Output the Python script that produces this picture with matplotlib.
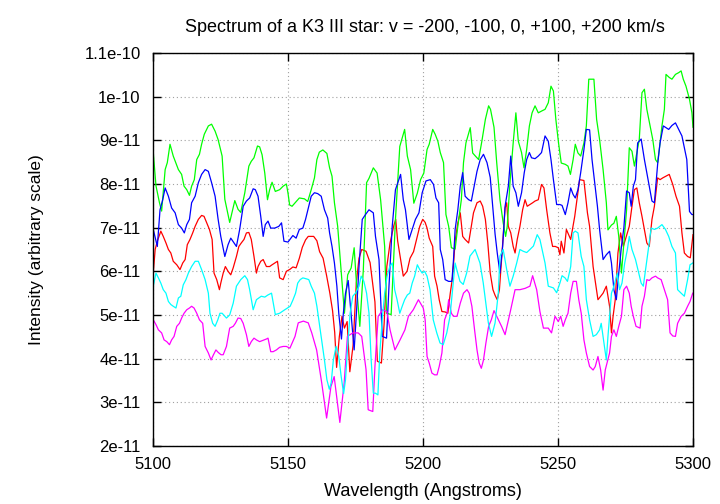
import matplotlib
matplotlib.use("Agg")
import matplotlib.pyplot as plt
import numpy as np

# spectra: (wavelength in Angstroms, intensity in units of 1e-11)
red = [(5100.1, 5.96), (5100.8, 6.50), (5101.6, 6.69), (5102.9, 6.92), (5103.8, 6.80), (5104.8, 6.65),
       (5105.7, 6.50), (5106.6, 6.42), (5107.5, 6.23), (5108.8, 6.15), (5110.0, 6.04), (5111.0, 6.19),
       (5111.9, 6.27), (5112.7, 6.61), (5113.7, 6.73), (5114.7, 6.88), (5115.6, 7.03), (5116.8, 7.19),
       (5118.0, 7.28), (5118.9, 7.26), (5119.9, 7.11), (5120.9, 6.96), (5121.9, 6.73), (5122.6, 5.96),
       (5123.6, 5.81), (5124.6, 5.58), (5125.1, 5.73), (5126.0, 5.96), (5126.8, 6.11), (5127.8, 6.00),
       (5128.8, 5.92), (5129.7, 6.08), (5130.9, 6.34), (5131.8, 6.57), (5132.7, 6.65), (5133.7, 6.73),
       (5134.6, 6.88), (5135.5, 6.89), (5136.4, 6.73), (5137.4, 6.34), (5138.3, 5.96), (5138.9, 6.11),
       (5139.9, 6.23), (5140.8, 6.27), (5142.0, 6.11), (5143.2, 6.11), (5144.1, 6.15), (5145.1, 6.19),
       (5146.1, 6.23), (5146.9, 5.85), (5148.2, 5.81), (5149.4, 6.00), (5150.8, 6.05), (5151.8, 6.10),
       (5153.0, 6.08), (5154.2, 6.30), (5155.3, 6.55), (5156.5, 6.72), (5157.5, 6.80), (5159.5, 6.80),
       (5160.7, 6.70), (5161.7, 6.45), (5163.0, 6.30), (5164.3, 5.90), (5165.5, 5.50), (5166.5, 5.10),
       (5167.3, 4.60), (5168.0, 3.80), (5169.0, 4.50), (5170.0, 4.97), (5170.9, 4.70), (5171.9, 4.85),
       (5172.9, 3.70), (5174.1, 4.30), (5175.3, 5.74), (5176.3, 6.30), (5177.3, 6.50), (5178.9, 6.46),
       (5180.4, 6.20), (5182.2, 5.30), (5183.1, 3.94), (5184.6, 3.90), (5185.6, 4.80), (5186.6, 6.11),
       (5187.8, 6.65), (5189.2, 7.05), (5189.9, 7.19), (5190.6, 6.70), (5191.7, 6.27), (5192.7, 5.89),
       (5194.1, 6.00), (5195.2, 6.30), (5196.5, 6.45), (5197.6, 6.73), (5198.8, 7.03), (5199.9, 7.19),
       (5200.8, 7.12), (5201.5, 6.99), (5202.3, 6.76), (5203.6, 6.57), (5204.3, 5.89), (5205.2, 5.66),
       (5206.0, 5.35), (5207.0, 5.08), (5208.2, 5.07), (5209.2, 5.04), (5210.1, 5.50), (5211.0, 5.89),
       (5211.9, 6.69), (5212.9, 7.11), (5213.8, 7.34), (5214.7, 6.80), (5215.6, 6.73), (5216.9, 6.65),
       (5217.9, 7.03), (5218.7, 7.34), (5220.0, 7.57), (5221.2, 7.61), (5222.1, 7.49), (5223.1, 7.19),
       (5224.0, 6.65), (5224.9, 5.96), (5225.9, 5.58), (5226.7, 5.45), (5227.5, 5.35), (5228.3, 5.58),
       (5229.1, 6.27), (5230.4, 7.45), (5231.0, 7.57), (5231.6, 7.03), (5232.5, 6.88), (5233.4, 6.57),
       (5234.1, 6.42), (5234.9, 6.73), (5235.9, 7.03), (5236.9, 7.41), (5237.8, 7.64), (5238.6, 7.49),
       (5239.6, 7.53), (5240.6, 7.57), (5241.5, 7.61), (5242.7, 7.64), (5243.9, 7.99), (5244.8, 7.91),
       (5245.8, 7.41), (5247.0, 6.88), (5248.0, 6.57), (5249.0, 6.57), (5250.1, 6.54), (5250.7, 6.38),
       (5251.2, 6.69), (5252.2, 6.42), (5253.1, 6.96), (5254.7, 6.73), (5256.2, 7.26), (5258.0, 8.10),
       (5259.6, 8.08), (5260.9, 7.34), (5261.7, 7.03), (5263.0, 6.11), (5264.8, 5.35), (5266.7, 5.50),
       (5267.9, 5.66), (5269.1, 5.20), (5269.8, 4.59), (5270.4, 4.97), (5271.2, 5.35), (5272.2, 6.42),
       (5273.2, 6.88), (5274.2, 6.57), (5275.3, 6.80), (5276.4, 7.03), (5277.4, 7.49), (5278.3, 7.87),
       (5279.2, 7.91), (5280.1, 7.57), (5281.1, 7.26), (5282.0, 6.96), (5282.9, 6.65), (5283.8, 6.57),
       (5284.8, 7.19), (5285.7, 7.49), (5286.9, 8.14), (5287.8, 8.10), (5288.8, 8.14), (5290.0, 8.18),
       (5291.2, 8.22), (5292.5, 7.99), (5293.7, 7.72), (5295.0, 7.49), (5295.9, 6.88), (5296.8, 6.42),
       (5298.0, 6.34), (5299.0, 6.31), (5300.0, 6.84)]

green = [(5100.1, 8.72), (5101.1, 7.96), (5102.4, 7.57), (5103.2, 7.38), (5104.5, 8.33), (5105.3, 8.49),
         (5106.3, 8.91), (5107.5, 8.64), (5109.4, 8.33), (5110.6, 8.22), (5111.5, 7.95), (5112.5, 7.87),
         (5113.5, 7.74), (5114.3, 7.95), (5115.3, 8.10), (5116.2, 8.56), (5117.2, 8.68), (5118.0, 8.91),
         (5119.0, 9.14), (5120.5, 9.33), (5121.7, 9.37), (5123.0, 9.21), (5124.1, 9.02), (5125.6, 8.64),
         (5126.6, 7.65), (5128.4, 7.12), (5130.3, 7.62), (5131.5, 7.42), (5132.5, 7.35), (5134.0, 7.80),
         (5135.5, 8.41), (5136.4, 8.52), (5137.4, 8.60), (5138.7, 8.87), (5139.5, 8.85), (5140.4, 8.67),
         (5141.4, 8.25), (5142.4, 7.64), (5143.2, 7.87), (5144.1, 8.04), (5145.3, 7.83), (5146.9, 7.87),
         (5148.2, 7.95), (5149.4, 8.00), (5150.0, 7.79), (5150.6, 7.52), (5151.5, 7.49), (5152.8, 7.58),
         (5154.2, 7.68), (5156.1, 7.66), (5157.3, 7.60), (5158.6, 7.87), (5159.8, 8.14), (5160.7, 8.56),
         (5161.6, 8.73), (5162.9, 8.78), (5164.4, 8.70), (5165.4, 8.37), (5166.3, 8.18), (5167.2, 7.57),
         (5168.4, 7.03), (5169.7, 6.00), (5170.9, 5.04), (5172.1, 5.92), (5173.4, 6.08), (5174.5, 6.54),
         (5175.6, 5.50), (5176.6, 4.74), (5177.9, 6.04), (5179.1, 8.03), (5180.0, 8.13), (5181.6, 8.37),
         (5183.0, 8.25), (5184.3, 7.64), (5185.8, 6.57), (5186.5, 5.04), (5188.2, 5.01), (5189.8, 7.19),
         (5191.4, 8.86), (5193.2, 9.25), (5194.2, 8.64), (5195.4, 8.33), (5196.6, 7.56), (5197.9, 7.79),
         (5199.1, 8.10), (5200.3, 8.25), (5201.5, 8.79), (5202.3, 8.91), (5203.6, 9.25), (5204.5, 9.14),
         (5205.5, 8.98), (5206.4, 8.72), (5207.6, 8.49), (5208.5, 7.30), (5209.5, 7.03), (5210.5, 6.54),
         (5211.9, 6.51), (5212.9, 7.03), (5214.2, 7.64), (5215.0, 8.49), (5215.9, 8.94), (5217.5, 9.29),
         (5218.4, 8.71), (5219.4, 8.64), (5220.6, 8.56), (5221.8, 8.98), (5223.1, 9.48), (5224.3, 9.79),
         (5225.0, 9.71), (5226.3, 9.30), (5227.3, 8.49), (5228.5, 7.64), (5229.7, 7.11), (5230.6, 6.80),
         (5231.2, 7.03), (5232.2, 8.02), (5233.4, 8.94), (5234.4, 9.63), (5235.3, 8.98), (5236.5, 8.72),
         (5237.4, 8.37), (5238.4, 8.79), (5239.4, 9.33), (5240.4, 9.63), (5241.5, 9.79), (5242.7, 9.63),
         (5243.9, 9.67), (5245.2, 9.71), (5246.4, 9.86), (5247.4, 10.24), (5248.3, 10.13), (5249.2, 9.48),
         (5250.2, 8.94), (5251.2, 8.48), (5252.7, 8.45), (5253.7, 8.41), (5254.6, 8.22), (5255.6, 8.56),
         (5256.4, 8.91), (5257.4, 8.71), (5258.4, 8.64), (5259.6, 8.94), (5260.5, 9.33), (5261.4, 10.40),
         (5262.3, 10.40), (5263.3, 10.40), (5264.3, 9.48), (5265.4, 9.02), (5266.7, 8.33), (5267.9, 7.57),
         (5268.5, 6.95), (5269.8, 7.06), (5270.7, 7.10), (5271.6, 7.26), (5272.5, 6.80), (5273.5, 5.96),
         (5274.4, 6.65), (5275.4, 7.41), (5276.4, 8.83), (5277.4, 8.75), (5278.3, 8.41), (5279.2, 8.71),
         (5280.1, 9.02), (5281.1, 10.09), (5282.0, 10.17), (5282.9, 9.71), (5284.1, 9.33), (5285.1, 9.02),
         (5286.1, 8.56), (5286.9, 8.49), (5287.8, 8.94), (5288.5, 9.33), (5289.4, 9.71), (5290.0, 10.51),
         (5291.2, 10.44), (5292.2, 10.40), (5293.5, 10.51), (5294.7, 10.55), (5295.6, 10.59), (5296.4, 10.40),
         (5297.4, 10.24), (5298.7, 9.94), (5299.6, 9.63), (5300.0, 9.30)]

blue = [(5100.1, 6.96), (5101.6, 6.57), (5102.6, 7.41), (5103.6, 7.64), (5104.5, 7.91), (5105.7, 7.72),
        (5106.9, 7.45), (5108.2, 7.34), (5109.4, 7.07), (5110.6, 6.99), (5111.6, 6.88), (5112.5, 7.07),
        (5113.5, 7.19), (5114.3, 7.57), (5115.6, 7.72), (5116.8, 8.03), (5118.0, 8.22), (5119.3, 8.33),
        (5120.5, 8.29), (5121.7, 8.03), (5123.0, 7.72), (5124.1, 7.20), (5125.1, 6.80), (5126.6, 6.34),
        (5127.8, 6.61), (5128.8, 6.76), (5130.0, 6.65), (5130.9, 6.57), (5132.1, 6.96), (5133.4, 7.49),
        (5134.6, 7.61), (5135.8, 7.68), (5137.1, 7.89), (5137.9, 7.87), (5138.9, 7.72), (5139.9, 7.26),
        (5140.8, 6.80), (5141.6, 7.07), (5142.6, 7.15), (5143.6, 6.99), (5145.1, 6.99), (5146.6, 7.03),
        (5147.6, 7.11), (5148.5, 6.69), (5150.0, 6.67), (5151.8, 6.82), (5153.0, 6.76), (5154.2, 6.96),
        (5155.5, 6.99), (5156.5, 7.19), (5157.7, 7.49), (5158.6, 7.72), (5159.8, 7.80), (5161.0, 7.78),
        (5162.3, 7.72), (5163.5, 7.41), (5164.7, 7.22), (5165.4, 6.88), (5166.3, 6.57), (5167.2, 6.19),
        (5168.1, 5.66), (5168.8, 5.04), (5169.8, 4.45), (5170.5, 5.04), (5171.3, 5.50), (5172.3, 5.79),
        (5172.9, 5.35), (5173.7, 4.74), (5174.5, 4.20), (5175.3, 5.00), (5176.3, 6.11), (5177.5, 7.19),
        (5178.7, 7.30), (5180.0, 7.41), (5181.6, 7.34), (5182.4, 6.80), (5183.7, 6.27), (5184.9, 4.51),
        (5186.5, 4.47), (5187.4, 5.66), (5188.6, 7.03), (5189.8, 7.87), (5191.7, 8.22), (5192.7, 7.64),
        (5193.5, 7.41), (5194.8, 6.73), (5196.0, 6.96), (5197.2, 7.19), (5198.5, 7.34), (5199.7, 7.80),
        (5201.1, 8.07), (5202.7, 8.10), (5203.9, 7.99), (5204.8, 7.68), (5205.8, 7.57), (5206.4, 6.50),
        (5207.3, 6.27), (5208.2, 5.81), (5209.5, 5.77), (5210.7, 5.77), (5211.3, 6.27), (5211.9, 6.96),
        (5212.9, 7.41), (5213.8, 7.95), (5214.7, 8.26), (5215.6, 7.72), (5216.9, 7.64), (5217.9, 7.61),
        (5218.7, 7.87), (5220.0, 8.29), (5221.2, 8.56), (5222.4, 8.68), (5223.7, 8.49), (5224.9, 8.15),
        (5225.8, 7.50), (5226.7, 6.85), (5227.5, 6.42), (5228.5, 5.96), (5229.5, 6.57), (5230.4, 7.49),
        (5231.6, 7.95), (5232.5, 8.64), (5233.4, 7.95), (5234.4, 7.80), (5235.3, 7.49), (5236.5, 7.80),
        (5237.5, 8.26), (5238.4, 8.56), (5239.4, 8.72), (5240.2, 8.60), (5241.5, 8.58), (5242.7, 8.64),
        (5243.9, 8.72), (5245.2, 9.10), (5246.4, 8.98), (5247.4, 8.56), (5248.3, 8.10), (5249.5, 7.53),
        (5250.7, 7.53), (5251.5, 7.51), (5252.7, 7.30), (5253.7, 7.57), (5254.7, 7.91), (5255.6, 7.76),
        (5256.4, 7.68), (5257.4, 7.87), (5258.4, 8.26), (5259.6, 8.79), (5260.5, 9.25), (5261.7, 9.24),
        (5262.6, 8.56), (5263.6, 8.03), (5264.6, 7.49), (5265.4, 6.96), (5266.7, 6.27), (5267.9, 6.38),
        (5269.1, 6.46), (5269.8, 6.19), (5270.7, 5.58), (5271.6, 5.35), (5272.5, 5.96), (5273.5, 6.57),
        (5274.4, 7.00), (5275.4, 7.84), (5276.4, 7.80), (5277.1, 7.49), (5277.9, 7.95), (5278.7, 8.10),
        (5279.5, 8.94), (5280.8, 9.03), (5282.0, 8.56), (5282.9, 8.26), (5283.8, 7.95), (5284.8, 7.61),
        (5285.7, 7.57), (5286.9, 8.45), (5287.8, 8.94), (5289.0, 9.33), (5290.0, 9.29), (5291.0, 9.25),
        (5292.2, 9.34), (5293.5, 9.40), (5294.7, 9.25), (5295.9, 9.10), (5296.8, 8.83), (5297.7, 8.56),
        (5298.7, 7.37), (5299.6, 7.30), (5300.0, 7.30)]

magenta = [(5100.1, 4.89), (5101.1, 4.78), (5102.0, 4.66), (5103.2, 4.59), (5104.1, 4.43), (5105.1, 4.39),
           (5106.1, 4.32), (5106.9, 4.43), (5107.8, 4.51), (5108.8, 4.74), (5109.8, 4.81), (5110.6, 4.93),
           (5111.5, 5.04), (5112.5, 5.12), (5113.5, 5.16), (5114.3, 5.20), (5115.2, 5.16), (5116.2, 5.04),
           (5117.2, 4.89), (5118.4, 4.81), (5119.3, 4.28), (5120.5, 4.13), (5121.5, 3.97), (5122.4, 4.09),
           (5123.3, 4.20), (5124.2, 4.14), (5125.2, 4.09), (5126.0, 4.09), (5127.2, 4.28), (5128.4, 4.70),
           (5129.7, 4.74), (5130.5, 4.81), (5131.5, 4.93), (5132.5, 4.92), (5133.4, 4.81), (5134.6, 4.55),
           (5135.5, 4.28), (5136.4, 4.39), (5137.4, 4.47), (5138.3, 4.43), (5139.5, 4.39), (5140.8, 4.42),
           (5142.0, 4.45), (5142.6, 4.47), (5143.6, 4.16), (5144.5, 4.16), (5145.7, 4.20), (5146.9, 4.26),
           (5148.2, 4.28), (5149.4, 4.28), (5150.7, 4.24), (5152.6, 4.51), (5153.8, 4.82), (5155.7, 4.86),
           (5157.5, 4.82), (5158.8, 4.59), (5160.6, 4.20), (5162.5, 3.44), (5164.3, 2.64), (5165.9, 3.36),
           (5167.1, 3.59), (5168.3, 2.98), (5169.2, 2.54), (5170.8, 3.44), (5172.0, 4.51), (5174.0, 4.59),
           (5176.0, 4.59), (5177.3, 4.51), (5178.9, 3.75), (5179.7, 2.83), (5181.4, 2.79), (5182.2, 3.82),
           (5183.4, 4.97), (5185.1, 5.12), (5186.6, 5.08), (5187.8, 4.66), (5189.6, 4.20), (5191.5, 4.43),
           (5193.3, 4.66), (5194.6, 4.97), (5196.4, 5.12), (5198.3, 5.35), (5200.1, 5.16), (5200.8, 4.89),
           (5201.5, 4.05), (5202.3, 3.90), (5203.3, 3.67), (5204.3, 3.63), (5205.2, 3.63), (5206.0, 3.82),
           (5207.0, 4.13), (5208.0, 4.89), (5208.9, 5.04), (5209.5, 5.35), (5210.5, 5.04), (5211.3, 4.97),
           (5212.6, 4.97), (5213.8, 5.27), (5215.0, 5.50), (5216.3, 5.58), (5217.1, 5.50), (5218.1, 5.20),
           (5219.1, 4.66), (5220.0, 4.20), (5220.8, 3.90), (5221.6, 3.78), (5222.4, 3.97), (5223.3, 4.36),
           (5224.3, 4.74), (5225.3, 4.89), (5226.3, 5.10), (5227.3, 4.97), (5229.1, 4.74), (5230.4, 4.55),
           (5232.2, 5.04), (5234.1, 5.58), (5235.9, 5.58), (5237.8, 5.61), (5239.6, 5.66), (5240.6, 5.90),
           (5242.1, 5.58), (5243.3, 5.08), (5244.6, 4.70), (5246.4, 4.70), (5247.6, 4.59), (5248.9, 4.97),
           (5250.1, 4.85), (5251.0, 4.97), (5251.9, 4.74), (5252.7, 4.89), (5253.7, 5.04), (5254.7, 5.50),
           (5255.6, 5.77), (5256.8, 5.77), (5257.7, 5.35), (5258.6, 5.04), (5259.6, 4.43), (5260.5, 4.13),
           (5261.7, 3.82), (5263.0, 3.74), (5263.8, 3.82), (5264.8, 4.05), (5265.8, 3.74), (5266.7, 3.28),
           (5267.5, 3.74), (5268.3, 3.94), (5269.1, 4.13), (5269.8, 4.51), (5270.7, 4.66), (5271.6, 4.51),
           (5272.5, 4.74), (5273.5, 4.97), (5274.4, 5.58), (5275.4, 5.66), (5276.4, 5.50), (5277.1, 5.20),
           (5277.9, 4.97), (5278.9, 4.74), (5280.4, 4.70), (5281.1, 5.20), (5282.0, 5.43), (5282.9, 5.81),
           (5283.8, 5.79), (5284.8, 5.85), (5286.1, 5.89), (5286.9, 5.85), (5288.2, 5.81), (5289.4, 5.58),
           (5290.6, 5.35), (5291.5, 4.59), (5292.5, 4.52), (5293.5, 4.51), (5294.3, 4.81), (5295.6, 4.97),
           (5296.8, 5.04), (5298.0, 5.20), (5298.9, 5.31), (5299.9, 5.50)]

cyan = [(5100.1, 5.66), (5101.1, 5.96), (5102.0, 5.85), (5102.9, 5.73), (5103.8, 5.58), (5104.8, 5.50),
        (5105.7, 5.31), (5106.6, 5.24), (5107.5, 5.20), (5108.5, 5.16), (5109.4, 5.39), (5110.3, 5.43),
        (5111.2, 5.69), (5112.2, 5.81), (5113.1, 5.96), (5114.3, 6.11), (5115.6, 6.23), (5116.8, 6.23),
        (5118.0, 6.04), (5119.3, 5.81), (5120.5, 5.50), (5121.1, 5.04), (5122.1, 4.81), (5123.0, 4.74),
        (5124.0, 4.89), (5124.8, 5.04), (5125.6, 5.04), (5127.2, 4.93), (5128.4, 5.00), (5129.7, 5.27),
        (5130.9, 5.66), (5132.5, 5.81), (5134.0, 5.90), (5135.0, 5.81), (5135.8, 5.58), (5137.1, 5.12),
        (5138.3, 5.35), (5140.1, 5.43), (5141.4, 5.41), (5142.6, 5.46), (5143.9, 5.50), (5145.3, 5.01),
        (5146.9, 5.04), (5148.8, 5.12), (5150.8, 5.20), (5151.8, 5.34), (5152.8, 5.50), (5153.6, 5.73),
        (5154.5, 5.81), (5155.5, 5.85), (5156.7, 5.83), (5157.7, 5.81), (5158.6, 5.66), (5159.8, 5.50),
        (5160.7, 5.20), (5161.6, 4.81), (5162.6, 4.36), (5163.5, 3.97), (5164.4, 3.52), (5165.3, 3.30),
        (5166.0, 3.45), (5166.8, 3.97), (5167.8, 4.28), (5168.8, 4.05), (5169.7, 3.59), (5170.6, 3.20),
        (5171.3, 3.52), (5172.1, 4.28), (5173.0, 5.04), (5174.0, 5.43), (5175.0, 5.50), (5176.3, 5.66),
        (5177.1, 5.89), (5178.1, 5.77), (5179.1, 5.50), (5180.0, 5.04), (5180.8, 3.97), (5181.6, 3.21),
        (5182.4, 3.21), (5183.3, 3.17), (5184.0, 4.13), (5184.9, 4.89), (5185.8, 5.50), (5186.7, 5.89),
        (5187.7, 6.11), (5188.6, 6.19), (5189.5, 5.58), (5190.4, 5.35), (5191.4, 5.04), (5192.3, 5.20),
        (5193.2, 5.35), (5194.2, 5.46), (5195.1, 5.50), (5196.0, 5.73), (5196.9, 5.89), (5197.9, 6.15),
        (5198.8, 6.04), (5199.7, 5.96), (5200.6, 6.00), (5201.5, 5.89), (5202.6, 5.58), (5203.8, 4.89),
        (5205.1, 4.59), (5206.3, 4.36), (5207.5, 4.32), (5208.8, 4.59), (5210.0, 4.97), (5211.9, 6.19),
        (5212.5, 6.04), (5213.7, 5.77), (5214.9, 5.70), (5216.2, 5.97), (5217.4, 6.35), (5219.3, 6.50),
        (5221.1, 6.19), (5222.3, 5.74), (5224.2, 4.82), (5225.4, 4.51), (5226.7, 4.82), (5227.9, 5.51),
        (5228.5, 6.35), (5229.7, 6.50), (5231.0, 6.04), (5232.2, 5.66), (5233.4, 5.89), (5234.7, 6.19),
        (5235.9, 6.50), (5237.1, 6.46), (5238.4, 6.43), (5239.6, 6.50), (5240.9, 6.58), (5242.3, 6.84),
        (5243.3, 6.73), (5245.2, 6.19), (5246.4, 5.66), (5248.3, 5.62), (5249.5, 5.51), (5250.7, 5.73),
        (5251.5, 5.90), (5252.6, 5.85), (5253.5, 5.77), (5254.7, 6.11), (5255.6, 6.88), (5256.4, 6.92),
        (5257.4, 6.88), (5258.6, 6.34), (5259.6, 6.11), (5260.5, 5.35), (5261.7, 4.89), (5263.0, 4.51),
        (5264.2, 4.55), (5265.4, 4.66), (5266.0, 4.81), (5267.0, 4.36), (5267.9, 3.97), (5268.5, 4.51),
        (5269.8, 5.50), (5270.7, 5.66), (5272.0, 5.96), (5272.8, 5.58), (5273.7, 5.73), (5274.7, 6.19),
        (5275.7, 6.50), (5276.4, 6.80), (5277.4, 6.50), (5278.7, 6.27), (5279.9, 5.96), (5280.8, 5.73),
        (5281.6, 5.66), (5282.6, 6.11), (5283.6, 6.57), (5284.5, 6.99), (5285.7, 6.96), (5286.9, 6.99),
        (5288.5, 7.07), (5289.8, 6.96), (5291.0, 6.80), (5292.2, 6.57), (5293.5, 6.42), (5294.3, 5.58),
        (5295.6, 5.50), (5296.8, 5.43), (5298.0, 5.81), (5298.9, 6.15), (5299.9, 6.19)]

series = [red, green, blue, magenta, cyan]
colors = ["#ff0000", "#00ff00", "#0000ff", "#ff00ff", "#00ffff"]

xticks = [5100, 5150, 5200, 5250, 5300]
yticks = [k * 1e-11 for k in range(2, 12)]

plt.rcParams['font.family'] = ['Liberation Sans', 'DejaVu Sans']

fig = plt.figure(figsize=(7.2, 5.04), dpi=100)
ax = fig.add_axes([153 / 720, 1 - 446 / 504, 540 / 720, 393 / 504])

for s, c in zip(series, colors):
    d = np.array(s)
    ax.plot(d[:, 0], d[:, 1] * 1e-11, color=c, linewidth=0.9)

ax.set_xlim(5100, 5300)
ax.set_ylim(2e-11, 1.1e-10)
ax.set_xticks(xticks)
ax.set_yticks(yticks)
ax.set_yticklabels(["%g" % v for v in yticks])
ax.tick_params(direction="in", length=6, width=1, top=True, right=True,
               labelsize=12, colors="black")
ax.tick_params(axis="x", pad=8)
ax.tick_params(axis="y", pad=9)
ax.grid(True, color="#a0a0a0", linestyle=(0, (1, 2.5)), linewidth=0.8)
for sp in ax.spines.values():
    sp.set_linewidth(1.0)

fig.text(425 / 720, 1 - 27 / 504, "Spectrum of a K3 III star: v = -200, -100, 0, +100, +200 km/s",
         ha="center", va="center", fontsize=13)
fig.text(423 / 720, 1 - 491 / 504, "Wavelength (Angstroms)", ha="center", va="center", fontsize=13)
fig.text(37 / 720, 1 - 250 / 504, "Intensity (arbitrary scale)", ha="center", va="center",
         rotation=90, fontsize=12.5)

fig.savefig("out.png", dpi=100)
